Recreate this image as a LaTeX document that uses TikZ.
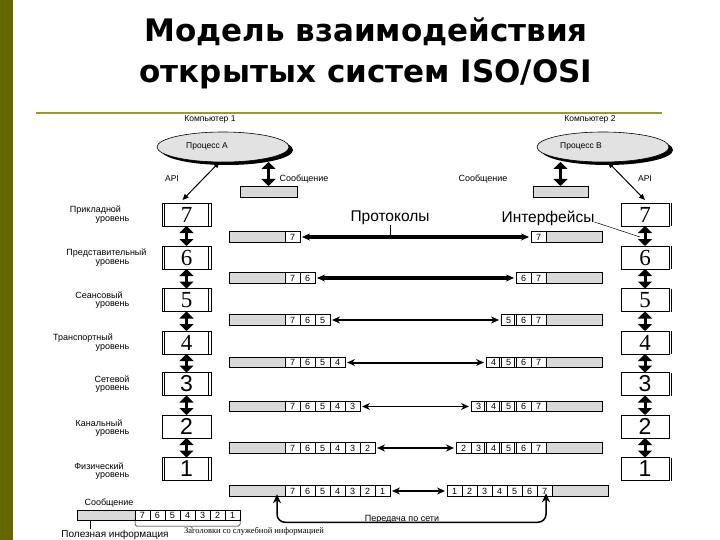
\documentclass[tikz,border=0pt]{standalone}
\usepackage{fontspec}
\setmainfont{Liberation Sans}
\newfontfamily\titlefont{DejaVu Sans}
\newfontfamily\serifdig{Liberation Serif}
\usetikzlibrary{arrows.meta,shapes.geometric,calc}
\definecolor{olivebar}{RGB}{102,102,0}
\definecolor{oliveline}{RGB}{153,153,51}
\definecolor{barfill}{RGB}{217,217,217}
\definecolor{ellfill}{RGB}{226,226,226}
\begin{document}
\begin{tikzpicture}[x=1pt,y=-1pt,
  every node/.style={inner sep=0pt,outer sep=0pt},
  pktcell/.style={draw,line width=0.6pt,minimum width=15pt,minimum height=10.5pt,font=\fontsize{9}{9}\selectfont},
  pktgray/.style={draw,line width=0.6pt,fill=barfill,minimum width=56pt,minimum height=10.5pt},
  layerbox/.style={draw,line width=0.7pt,minimum width=49pt,minimum height=23pt,font=\fontsize{23}{23}\selectfont},
  smalltxt/.style={font=\fontsize{9}{9}\selectfont},
  tinytxt/.style={font=\fontsize{8.5}{8.5}\selectfont},
  vdbl/.style={line width=3pt,{Triangle[length=7pt,width=14pt]}-{Triangle[length=7pt,width=14pt]}},
  apiarrow/.style={line width=1pt,{Triangle[length=6pt,width=5pt]}-{Triangle[length=6pt,width=5pt]}},
  protarrow/.style={{Stealth[length=8pt,width=7pt]}-{Stealth[length=8pt,width=7pt]},shorten <=2pt,shorten >=2pt},
  procell/.style={ellipse,draw,line width=0.6pt,fill=ellfill,minimum width=132pt,minimum height=30pt},
  procshadow/.style={ellipse,fill=black,minimum width=132pt,minimum height=30pt}
]
\useasboundingbox (0,0) rectangle (720,540);
\fill[white] (0,0) rectangle (720,540);
\fill[olivebar] (0,0) rectangle (13,540);
\draw[oliveline,line width=2pt] (36,113) -- (662,113);

% title
\node[anchor=base,font=\titlefont\bfseries\fontsize{31}{31}\selectfont] (t1) at (366,42) {Модель взаимодействия};
\node[anchor=base,font=\titlefont\bfseries\fontsize{31}{31}\selectfont] (t2) at (366,83) {открытых систем ISO/OSI};

% computers and processes
\node[tinytxt] (c1) at (210,119) {Компьютер 1};
\node[tinytxt] (c2) at (590,119) {Компьютер 2};
\node[procshadow] at (227,150) {};
\node[procell] (pA) at (223,147) {};
\node[tinytxt] at (207,146) {Процесс А};
\node[procshadow] at (607,150) {};
\node[procell] (pB) at (603,147) {};
\node[tinytxt] at (581,146) {Процесс В};

\node[tinytxt] at (172,179) {API};
\node[smalltxt] at (304,179) {Сообщение};
\node[smalltxt] at (483,179) {Сообщение};
\node[tinytxt] at (645,179) {API};

\node[pktgray,minimum width=57pt,minimum height=11pt] (msgA) at (268.5,191.5) {};
\node[pktgray,minimum width=55pt,minimum height=11pt] (msgB) at (560.5,191.5) {};
\draw[vdbl] (msgA.north) -- (msgA.north |- pA.south);
\draw[vdbl] (msgB.north) -- (msgB.north |- pB.south);

% layers
\foreach \L/\by/\ry/\lw/\ta/\tx/\tb in {
  7/214.5/237/3.6pt/Прикладной/95.5/210,
  6/257.5/278/3.2pt/Представительный/106.5/253,
  5/300/320/2.6pt/Сеансовый/99/295,
  4/342.5/362.5/2pt/Транспортный/83/338,
  3/384/406.5/1.2pt/Сетевой/112/379,
  2/426.5/448/1.1pt/Канальный/99/423,
  1/469/491/1.4pt/Физический/99/466}{
  \node[layerbox] (lb\L) at (186.5,\by) {\ifnum\L>3 \serifdig\fi\L};
  \node[layerbox,minimum width=48pt] (rb\L) at (645,\by) {\ifnum\L>3 \serifdig\fi\L};
  \ifnum\L=2\else
    \draw[line width=0.6pt] ([xshift=2.5pt]lb\L.north west) -- ([xshift=2.5pt]lb\L.south west);
    \draw[line width=0.6pt] ([xshift=-2.5pt]lb\L.north east) -- ([xshift=-2.5pt]lb\L.south east);
    \draw[line width=0.6pt] ([xshift=2.5pt]rb\L.north east) -- ([xshift=2.5pt]rb\L.south east);
  \fi
  \node[smalltxt] (la\L) at (\tx,\tb) {\ta};
  \node[smalltxt] (lu\L) at (112.5,\tb+10.5) {уровень};
  % left packet
  \node[pktgray] (lg\L) at (257,\ry) {};
  \foreach \k in {7,...,\L}{
    \pgfmathsetmacro\cx{292.5+15*(7-\k)}
    \node[pktcell] (lc\L-\k) at (\cx,\ry) {\k};
  }
  % right packet
  \pgfmathsetmacro\rs{\L==1 ? 6 : 0}
  \node[pktgray] (rg\L) at (574+\rs,\ry) {};
  \foreach \k in {\L,...,7}{
    \pgfmathsetmacro\cx{538.5+\rs-15*(7-\k)}
    \node[pktcell] (rc\L-\k) at (\cx,\ry) {\k};
  }
  \ifnum\L>1 \ifnum\L<6
    \pgfmathtruncatemacro\ks{max(\L+1,4)}
    \foreach \kk in {\ks,...,6}{
      \draw[line width=0.6pt] ([xshift=-2pt]rc\L-\kk.north west) -- ([xshift=-2pt]rc\L-\kk.south west);
    }
  \fi\fi
  \draw[protarrow,line width=\lw] (lc\L-\L.east) -- (rc\L-\L.west);
}

\foreach \a/\b in {7/6,6/5,5/4,4/3,3/2,2/1}{
  \draw[vdbl] (lb\a.south) -- (lb\b.north);
  \draw[vdbl] (rb\a.south) -- (rb\b.north);
}

% API arrows
\draw[apiarrow] (pA.-103) -- ([xshift=-4pt,yshift=3pt]lb7.north);
\draw[apiarrow] (pB.-72) -- ([yshift=3pt]rb7.north);

% labels protocols / interfaces
\node[font=\fontsize{15.5}{15.5}\selectfont] (prot) at (390,218) {Протоколы};
\draw[line width=0.6pt] (prot.south) -- (prot.south |- lc7-7.center);
\node[font=\fontsize{15.5}{15.5}\selectfont] (intf) at (548,218) {Интерфейсы};
\coordinate (ifp) at (640,237);
\draw[line width=0.5pt] ([yshift=-4pt]intf.east) -- (ifp);

% bottom message
\node[smalltxt] (msgt) at (109,503) {Сообщение};
\node[pktgray,minimum width=58pt] (mg) at (106,515.5) {};
\foreach \k in {7,...,1}{
  \pgfmathsetmacro\cx{142.5+15*(7-\k)}
  \node[pktcell] (mc\k) at (\cx,515.5) {\k};
}
\draw[line width=0.5pt,rounded corners=1.5pt] ([yshift=2pt]mc7.south west) |- (192,526) -- (192,529) (192,526) -| ([yshift=2pt]mc1.south east);
\draw[line width=0.6pt] ([xshift=13pt]mg.south west) -- ++(0,8);
\node[font=\fontsize{10}{10}\selectfont] (useful) at (115,535) {Полезная информация};
\node[font=\serifdig\fontsize{8.5}{8.5}\selectfont] (hdr) at (254,531) {Заголовки со служебной информацией};

% network transfer
\node[smalltxt] (net) at (402,519) {Передача по сети};
\draw[line width=1.5pt,rounded corners=8pt,{Stealth[length=9pt,width=8pt]}-{Stealth[length=9pt,width=8pt]}]
  ([xshift=20pt,yshift=2pt]lg1.south) -- ++(0,28) -| ([xshift=1.5pt,yshift=3pt]rc1-7.south);
\end{tikzpicture}
\end{document}
